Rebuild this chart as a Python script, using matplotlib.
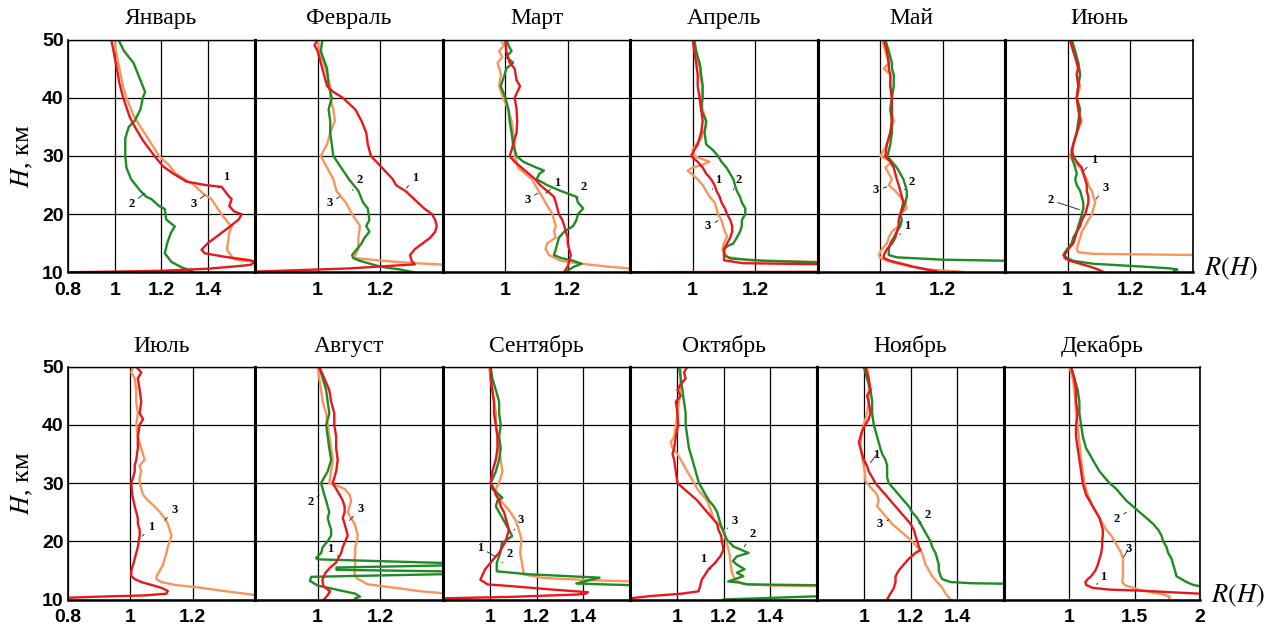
import numpy as np
import matplotlib.pyplot as plt

plt.rcParams['font.family'] = 'Liberation Sans'
plt.rcParams['mathtext.fontset'] = 'stix'

MONTHS = ["Январь", "Февраль", "Март", "Апрель", "Май", "Июнь",
          "Июль", "Август", "Сентябрь", "Октябрь", "Ноябрь", "Декабрь"]
XLIMS = [(0.8, 1.6), (0.8, 1.4), (0.8, 1.4), (0.8, 1.4), (0.8, 1.4), (0.8, 1.4),
         (0.8, 1.4), (0.8, 1.4), (0.8, 1.6), (0.8, 1.6), (0.8, 1.6), (0.5, 2.0)]
XTICKS = [[0.8, 1, 1.2, 1.4], [1, 1.2], [1, 1.2], [1, 1.2], [1, 1.2], [1, 1.2, 1.4],
          [0.8, 1, 1.2], [1, 1.2], [1, 1.2, 1.4], [1, 1.2, 1.4], [1, 1.2, 1.4], [1, 1.5, 2]]
YTICKS = [10, 20, 30, 40, 50]

# profiles as (R, H) pairs, 1 - red, 2 - green, 3 - orange
JAN_1 = [(0.985, 50), (0.995, 48), (1.007, 45.4), (1.02, 42.5), (1.036, 40), (1.064, 36.7), (1.086, 35),
         (1.12, 32.7), (1.17, 30), (1.207, 28.2), (1.25, 27), (1.307, 25.6), (1.39, 25), (1.457, 24.7),
         (1.49, 23), (1.5, 22.6), (1.49, 21.4), (1.51, 20.5), (1.543, 20), (1.53, 19.1), (1.493, 17.9),
         (1.457, 16.8), (1.4, 15.1), (1.371, 13.9), (1.385, 13.3), (1.47, 12.7), (1.58, 12.1), (1.6, 11.8),
         (1.58, 11.3), (1.5, 11.0), (1.4, 10.65), (1.2, 10.3), (1.0, 10.15), (0.8, 10.05)]
JAN_2 = [(1.015, 50), (1.04, 48), (1.08, 46), (1.09, 45), (1.11, 43), (1.13, 41), (1.12, 40), (1.11, 38),
         (1.085, 36), (1.06, 35), (1.045, 33), (1.045, 31), (1.045, 30), (1.05, 28), (1.07, 26), (1.11, 24),
         (1.135, 23), (1.157, 22.6), (1.19, 21.4), (1.214, 20.9), (1.22, 19.1), (1.257, 17.9), (1.24, 16.8),
         (1.225, 15.1), (1.214, 13.3), (1.243, 11.8), (1.286, 10.9), (1.33, 10.2)]
JAN_3 = [(1.0, 50), (1.005, 48), (1.02, 45), (1.035, 42), (1.05, 40), (1.08, 37), (1.11, 35), (1.15, 32.5),
         (1.19, 30), (1.23, 28.5), (1.26, 27), (1.3, 26), (1.34, 25), (1.38, 23.5), (1.414, 22.6), (1.44, 21),
         (1.457, 20), (1.48, 18.8), (1.5, 17.9), (1.49, 16.8), (1.486, 15.6), (1.48, 13.9), (1.507, 12.4),
         (1.53, 12.1), (1.62, 11.8)]

FEB_1 = [(1.0, 50), (0.99, 49), (1.0, 48), (1.01, 46), (1.02, 44), (1.03, 42), (1.05, 41), (1.08, 40),
         (1.12, 38), (1.14, 36), (1.155, 34), (1.16, 32), (1.17, 30), (1.205, 28), (1.24, 26), (1.25, 25),
         (1.28, 24), (1.32, 22), (1.34, 21), (1.365, 20), (1.375, 19), (1.38, 18), (1.375, 17), (1.36, 16),
         (1.335, 15), (1.31, 14), (1.295, 13), (1.3, 12), (1.31, 11.4), (1.1, 10.7), (0.8, 10.15)]
FEB_2 = [(1.015, 50), (1.01, 48), (1.03, 45), (1.035, 42), (1.045, 40), (1.035, 38), (1.04, 36), (1.04, 34),
         (1.045, 32), (1.05, 30), (1.075, 28), (1.1, 26), (1.13, 24), (1.145, 22), (1.16, 21), (1.165, 19),
         (1.155, 18), (1.165, 17), (1.15, 16), (1.14, 15), (1.125, 14), (1.11, 13), (1.113, 12.5),
         (1.135, 12), (1.2, 11), (1.265, 10.5), (1.305, 10.05)]
FEB_3 = [(1.0, 50), (1.005, 48), (1.02, 46), (1.03, 44), (1.04, 42), (1.04, 40), (1.05, 38), (1.055, 36),
         (1.04, 34), (1.03, 32), (1.01, 30), (1.03, 28), (1.05, 26), (1.06, 24), (1.09, 22), (1.11, 20),
         (1.135, 18), (1.13, 16), (1.13, 14), (1.12, 13), (1.115, 12.5), (1.21, 12), (1.31, 11.6), (1.42, 11.3)]

MAR_1 = [(1.0, 50), (1.003, 48), (1.014, 46), (1.03, 45), (1.036, 43), (1.047, 42), (1.03, 40), (1.036, 38),
         (1.038, 36), (1.036, 34), (1.025, 32), (1.02, 31), (1.014, 30), (1.03, 29), (1.052, 28), (1.074, 27),
         (1.096, 26), (1.112, 25), (1.134, 24), (1.156, 23), (1.162, 22), (1.167, 21), (1.172, 20),
         (1.183, 19), (1.189, 18), (1.194, 17), (1.2, 16), (1.2, 15), (1.205, 14), (1.21, 13), (1.205, 12),
         (1.2, 11), (1.19, 10.2)]
MAR_2 = [(1.003, 50), (1.01, 49), (1.02, 48), (1.003, 47), (1.025, 46), (1.003, 45), (0.998, 44),
         (0.985, 42), (1.0, 40), (1.01, 38), (1.014, 36), (1.02, 34), (1.025, 32), (1.036, 30), (1.058, 29),
         (1.1, 28), (1.124, 27.5), (1.11, 27), (1.1, 26), (1.118, 25.5), (1.134, 25), (1.178, 24),
         (1.228, 23), (1.233, 22), (1.25, 21), (1.233, 20), (1.228, 19), (1.218, 18), (1.189, 17),
         (1.172, 16), (1.167, 15), (1.162, 14), (1.156, 13), (1.178, 12.5), (1.218, 12), (1.245, 11.5),
         (1.22, 11), (1.205, 10.5), (1.195, 10.0)]
MAR_3 = [(0.985, 50), (0.995, 49), (0.98, 48), (0.99, 47), (0.975, 46), (0.986, 44), (0.98, 42),
         (0.993, 40), (1.009, 38), (1.02, 36), (1.025, 34), (1.03, 32), (1.03, 30), (1.041, 28),
         (1.063, 27), (1.085, 26), (1.096, 25), (1.107, 24), (1.118, 23), (1.129, 22), (1.14, 21),
         (1.151, 20), (1.156, 19), (1.162, 18), (1.156, 17), (1.162, 16), (1.134, 15), (1.129, 14),
         (1.14, 13), (1.178, 12), (1.245, 11.5), (1.33, 11), (1.42, 10.6)]

APR_1 = [(1.0, 50), (1.005, 48), (1.011, 46), (1.016, 44), (1.016, 42), (1.022, 40), (1.027, 38),
         (1.032, 36), (1.027, 34), (1.016, 32), (1.005, 31), (0.995, 30), (1.016, 29), (1.032, 28),
         (1.043, 27), (1.059, 26), (1.07, 25), (1.076, 24), (1.086, 23), (1.092, 22), (1.103, 21),
         (1.11, 20), (1.12, 19), (1.126, 18), (1.126, 17), (1.12, 16), (1.11, 15), (1.1, 14), (1.1, 13),
         (1.1, 12.1), (1.16, 11.6), (1.42, 11.4), (1.45, 10.2), (1.4, 10.12), (0.8, 10.05)]
APR_2 = [(1.005, 50), (1.011, 48), (1.022, 46), (1.027, 44), (1.032, 42), (1.032, 40), (1.027, 38),
         (1.043, 36), (1.038, 34), (1.043, 32), (1.065, 31), (1.081, 30), (1.092, 29), (1.108, 28),
         (1.119, 27), (1.13, 26), (1.135, 25), (1.141, 24), (1.151, 23), (1.157, 22), (1.168, 21),
         (1.168, 20), (1.157, 19), (1.157, 18), (1.151, 17), (1.141, 16), (1.13, 15), (1.11, 14.5),
         (1.1, 13.9), (1.1, 13.0), (1.12, 12.4), (1.23, 12.0), (1.42, 11.7)]
APR_3 = [(1.005, 50), (1.011, 48), (1.016, 46), (1.027, 45), (1.022, 44), (1.032, 42), (1.027, 40),
         (1.032, 38), (1.043, 36), (1.043, 35), (1.032, 34), (1.027, 33), (1.011, 32), (1.0, 31),
         (1.005, 30), (1.054, 29), (1.032, 28.5), (1.0, 28), (0.984, 27.5), (0.995, 27), (1.016, 26),
         (1.032, 25), (1.043, 24), (1.054, 23), (1.07, 22), (1.076, 21), (1.081, 20), (1.092, 19),
         (1.097, 18), (1.103, 17), (1.11, 16.2), (1.1, 15.1), (1.095, 13.9), (1.11, 12.7), (1.176, 12.1),
         (1.42, 11.8)]

MAY_1 = [(1.011, 50), (1.021, 48), (1.027, 46), (1.027, 45), (1.032, 44), (1.032, 42), (1.037, 40),
         (1.037, 38), (1.037, 36), (1.032, 34), (1.021, 32), (1.016, 30), (1.032, 29), (1.043, 28),
         (1.048, 27), (1.053, 26), (1.059, 25), (1.064, 24), (1.069, 23), (1.074, 22), (1.069, 21),
         (1.064, 20), (1.059, 19), (1.059, 18), (1.053, 17), (1.048, 16), (1.037, 15), (1.021, 14),
         (1.011, 13), (1.011, 12.5), (1.032, 12), (1.106, 11), (1.149, 10.5), (1.18, 10.2)]
MAY_2 = [(1.016, 50), (1.027, 48), (1.037, 46), (1.037, 45), (1.043, 44), (1.043, 42), (1.037, 40),
         (1.032, 38), (1.037, 36), (1.037, 34), (1.032, 32), (1.023, 30), (1.037, 29), (1.053, 28),
         (1.064, 27), (1.074, 26), (1.08, 25), (1.085, 24), (1.085, 23), (1.08, 22), (1.074, 21),
         (1.064, 20), (1.069, 19), (1.064, 18), (1.053, 17), (1.043, 16), (1.032, 15), (1.027, 14),
         (1.027, 13), (1.053, 12.6), (1.2, 12.2), (1.42, 12.0)]
MAY_3 = [(1.005, 50), (1.016, 48), (1.027, 46), (1.011, 45), (1.032, 44), (1.032, 42), (1.037, 40),
         (1.032, 38), (1.043, 36), (1.032, 34), (1.021, 32), (1.0, 30), (1.037, 29), (1.016, 28),
         (1.027, 27), (1.037, 26), (1.027, 25), (1.048, 24), (1.064, 23), (1.08, 22), (1.085, 21),
         (1.064, 20), (1.059, 19), (1.059, 18), (1.037, 17), (1.027, 16), (1.021, 15), (1.005, 14),
         (0.995, 13), (1.0, 12.5), (1.021, 12), (1.096, 11), (1.16, 10.5), (1.266, 10.1)]

JUN_1 = [(1.007, 50), (1.018, 48), (1.029, 46), (1.034, 45), (1.029, 44), (1.034, 42), (1.029, 40),
         (1.034, 38), (1.04, 36), (1.029, 34), (1.018, 32), (1.013, 31), (1.018, 30), (1.029, 29),
         (1.045, 28), (1.05, 27), (1.056, 26), (1.061, 25), (1.061, 24), (1.066, 23), (1.066, 22),
         (1.061, 21), (1.056, 20), (1.045, 19), (1.04, 18), (1.029, 17), (1.024, 16), (1.018, 15),
         (1.002, 14), (0.99, 13), (0.99, 12.5), (1.007, 12), (1.04, 11.5), (1.072, 11), (1.098, 10.5),
         (1.11, 10.2)]
JUN_2 = [(1.013, 50), (1.024, 48), (1.034, 46), (1.04, 44), (1.034, 42), (1.029, 40), (1.04, 38),
         (1.034, 36), (1.029, 34), (1.018, 32), (1.013, 30), (1.018, 29), (1.024, 28), (1.029, 27),
         (1.024, 26), (1.029, 25), (1.04, 24), (1.045, 23), (1.05, 22), (1.05, 21), (1.045, 20),
         (1.04, 19), (1.034, 18), (1.029, 17), (1.018, 16), (1.013, 15), (0.998, 14), (0.986, 13),
         (0.998, 12.5), (1.018, 12), (1.082, 11.5), (1.243, 11), (1.328, 10.7), (1.35, 10.5), (1.34, 10.3)]
JUN_3 = [(1.005, 50), (1.018, 48), (1.034, 46), (1.029, 44), (1.04, 42), (1.029, 40), (1.034, 38),
         (1.045, 36), (1.029, 34), (1.018, 32), (1.007, 30), (1.018, 29), (1.04, 28), (1.05, 27),
         (1.061, 26), (1.066, 25), (1.077, 24), (1.082, 23), (1.088, 22), (1.082, 21), (1.077, 20),
         (1.066, 19), (1.056, 18), (1.045, 17), (1.04, 16), (1.034, 15), (1.029, 14), (1.034, 13.5),
         (1.082, 13.2), (1.42, 13.0)]

JUL_1 = [(1.019, 50), (1.035, 49), (1.024, 48), (1.03, 46), (1.035, 44), (1.03, 42), (1.041, 41),
         (1.03, 40), (1.024, 38), (1.024, 36), (1.019, 34), (1.014, 33), (1.014, 32), (1.009, 31),
         (1.003, 30), (1.006, 28), (1.014, 26), (1.019, 25), (1.024, 24), (1.024, 23), (1.03, 22),
         (1.03, 21), (1.027, 20), (1.024, 19), (1.019, 18), (1.014, 17), (1.009, 16), (1.003, 15),
         (1.003, 14), (1.014, 13.5), (1.035, 13), (1.068, 12.5), (1.1, 12), (1.12, 11.5), (1.116, 11),
         (1.046, 10.7), (0.906, 10.5), (0.8, 10.3), (0.7, 10.2)]
JUL_3 = [(1.009, 50), (1.003, 49), (1.014, 48), (1.019, 46), (1.019, 44), (1.024, 42), (1.019, 40),
         (1.024, 38), (1.035, 36), (1.046, 34), (1.03, 33), (1.035, 32), (1.03, 31), (1.03, 30),
         (1.035, 29), (1.041, 28), (1.057, 27), (1.078, 26), (1.095, 25), (1.11, 24), (1.12, 23),
         (1.126, 22), (1.132, 21), (1.126, 20), (1.12, 19), (1.116, 18), (1.11, 17), (1.105, 16),
         (1.095, 15), (1.084, 14), (1.084, 13.5), (1.1, 13), (1.143, 12.5), (1.229, 12), (1.294, 11.5),
         (1.369, 11), (1.42, 10.6)]

AUG_1 = [(1.005, 50), (1.021, 48), (1.037, 46), (1.043, 44), (1.053, 42), (1.053, 40), (1.059, 38),
         (1.059, 36), (1.064, 34), (1.059, 32), (1.048, 30), (1.059, 29), (1.07, 28), (1.08, 27),
         (1.086, 26), (1.086, 25), (1.08, 24), (1.086, 23), (1.091, 22), (1.096, 21), (1.088, 20),
         (1.08, 19), (1.075, 18), (1.065, 17), (1.058, 16.3), (1.04, 15.5), (1.025, 14.6), (1.015, 13.4),
         (1.018, 12.3), (1.04, 11.4), (1.03, 10.6), (1.02, 10.0)]
AUG_2 = [(1.005, 50), (1.016, 48), (1.027, 46), (1.032, 44), (1.037, 42), (1.027, 40), (1.032, 38),
         (1.037, 36), (1.043, 34), (1.032, 32), (1.021, 31), (1.011, 30), (1.016, 29), (1.021, 28),
         (1.027, 27), (1.032, 26), (1.037, 25), (1.032, 24), (1.037, 23), (1.043, 22), (1.043, 21),
         (1.032, 20), (1.016, 19), (1.011, 18), (0.995, 17.1), (1.0, 16.9), (1.45, 16.2), (1.45, 15.9),
         (1.06, 15.5), (1.06, 15.1), (1.45, 14.8), (1.45, 14.4), (0.98, 13.9), (0.975, 13.2), (1.0, 12.4),
         (1.06, 11.7), (1.12, 11.0), (1.135, 10.5), (1.12, 10.2)]
AUG_3 = [(1.0, 50), (1.005, 48), (1.011, 46), (1.016, 44), (1.027, 42), (1.032, 40), (1.037, 38),
         (1.043, 36), (1.048, 34), (1.043, 32), (1.037, 30), (1.064, 29.5), (1.086, 29), (1.102, 28),
         (1.107, 27), (1.102, 26), (1.096, 25), (1.107, 24), (1.118, 23), (1.123, 22), (1.128, 21),
         (1.125, 20), (1.12, 19), (1.12, 18), (1.118, 17), (1.12, 16), (1.118, 15), (1.118, 14.3),
         (1.124, 13.7), (1.16, 12.6), (1.25, 12.0), (1.33, 11.4), (1.42, 11.0)]

SEP_1 = [(1.004, 50), (1.004, 48), (1.011, 46), (1.018, 44), (1.018, 42), (1.026, 40), (1.033, 38),
         (1.033, 36), (1.026, 34), (1.011, 32), (1.004, 30), (1.018, 29), (1.026, 28), (1.04, 27),
         (1.047, 26), (1.061, 25), (1.068, 24), (1.075, 23), (1.082, 22), (1.075, 21), (1.068, 20),
         (1.054, 19), (1.04, 18), (1.026, 17.4), (0.98, 15.2), (0.96, 13.4), (0.99, 12.6), (1.09, 12.3),
         (1.27, 11.7), (1.42, 11.25), (1.41, 11.0), (1.37, 10.85), (1.09, 10.45), (0.8, 10.2), (0.7, 10.15)]
SEP_2 = [(1.004, 50), (1.011, 48), (1.026, 46), (1.04, 44), (1.04, 42), (1.047, 40), (1.04, 38),
         (1.047, 36), (1.04, 34), (1.026, 32), (1.004, 30), (1.011, 29), (1.04, 28), (1.054, 27.5),
         (1.033, 27), (1.026, 26), (1.04, 25), (1.054, 24), (1.068, 23), (1.082, 22), (1.096, 20.9),
         (1.052, 19.7), (1.045, 18.0), (1.03, 16.3), (1.03, 14.85), (1.16, 14.35), (1.47, 13.75),
         (1.37, 12.75), (1.65, 12.4)]
SEP_3 = [(0.997, 50), (1.004, 48), (1.011, 46), (1.018, 44), (1.026, 42), (1.026, 40), (1.033, 38),
         (1.04, 36), (1.047, 34), (1.054, 32), (1.04, 30), (1.026, 29), (1.033, 28), (1.047, 27),
         (1.068, 26), (1.089, 25), (1.104, 24), (1.11, 23.7), (1.124, 22), (1.136, 20.3), (1.13, 18),
         (1.14, 15.7), (1.146, 14.3), (1.23, 13.7), (1.44, 13.3), (1.62, 13.1)]

OCT_1 = [(1.045, 50), (1.031, 49), (1.038, 48), (1.017, 47), (1.003, 46), (1.017, 45), (0.996, 44),
         (1.003, 42), (1.006, 40), (0.996, 38), (0.989, 36), (0.982, 35), (0.989, 34), (0.996, 32),
         (1.003, 30), (1.031, 29), (1.06, 28), (1.088, 27), (1.109, 26), (1.13, 25), (1.152, 24),
         (1.173, 23), (1.178, 22), (1.19, 21), (1.193, 20), (1.2, 18.6), (1.187, 17.45), (1.164, 16.3),
         (1.136, 15.2), (1.107, 13.4), (1.1, 12.3), (1.093, 11.4), (1.02, 11.0), (0.89, 10.6), (0.8, 10.2)]
OCT_2 = [(1.01, 50), (1.017, 48), (1.024, 46), (1.031, 44), (1.038, 42), (1.038, 40), (1.045, 38),
         (1.052, 36), (1.067, 34), (1.081, 32), (1.095, 30), (1.109, 29), (1.123, 28), (1.138, 27),
         (1.159, 26), (1.173, 25), (1.18, 24), (1.187, 23), (1.19, 22.6), (1.214, 20.3), (1.243, 19.1),
         (1.307, 18.0), (1.257, 17.4), (1.24, 16.6), (1.257, 16.0), (1.29, 15.2), (1.257, 14.6),
         (1.285, 14.0), (1.22, 13.1), (1.27, 12.9), (1.3, 12.6), (1.7, 12.4), (1.7, 10.6), (1.6, 10.55),
         (1.2, 10.0)]
OCT_3 = [(1.017, 50), (1.017, 48), (1.014, 46), (1.01, 44), (1.003, 42), (0.996, 40), (0.989, 38),
         (0.974, 37), (0.982, 36), (1.003, 35), (1.017, 34), (1.031, 33), (1.045, 32), (1.06, 31),
         (1.074, 30), (1.088, 29), (1.109, 28), (1.13, 27), (1.145, 25.5), (1.157, 23.8), (1.2, 22.0),
         (1.21, 20.3), (1.225, 18.0), (1.23, 16.3), (1.236, 14.6), (1.25, 13.4), (1.28, 12.7),
         (1.4, 12.4), (1.62, 12.3)]

NOV_1 = [(1.007, 50), (1.021, 48), (1.029, 46), (1.014, 45), (1.021, 44), (1.029, 42), (1.021, 41),
         (1.007, 40), (0.993, 39), (0.986, 38), (0.979, 37), (0.986, 36), (0.993, 35), (1.0, 34),
         (1.014, 33), (1.021, 32), (1.036, 31), (1.05, 30), (1.071, 29), (1.093, 28), (1.114, 27),
         (1.136, 26), (1.157, 25), (1.179, 24), (1.2, 23), (1.214, 22), (1.221, 21), (1.229, 20),
         (1.236, 19), (1.243, 18.5), (1.221, 18), (1.193, 17), (1.171, 16), (1.15, 15), (1.136, 14),
         (1.136, 13), (1.129, 12), (1.114, 11), (1.1, 10)]
NOV_2 = [(1.0, 50), (1.014, 48), (1.029, 46), (1.036, 44), (1.036, 42), (1.043, 40), (1.057, 38),
         (1.071, 36), (1.079, 35), (1.093, 34), (1.1, 33), (1.1, 32), (1.1, 31), (1.107, 30),
         (1.129, 29), (1.15, 28), (1.171, 27), (1.193, 26), (1.207, 25), (1.229, 24), (1.243, 23),
         (1.257, 22), (1.271, 21), (1.286, 20), (1.293, 19), (1.307, 18), (1.314, 17), (1.321, 16),
         (1.321, 15), (1.329, 14), (1.336, 13.5), (1.371, 13), (1.457, 12.8), (1.62, 12.7)]
NOV_3 = [(1.014, 50), (1.021, 48), (1.021, 46), (1.021, 44), (1.014, 42), (1.0, 40), (0.99, 38),
         (0.985, 36), (0.995, 34), (1.005, 32), (1.007, 30.3), (1.036, 29), (1.057, 28), (1.064, 27),
         (1.057, 26), (1.079, 25), (1.1, 24), (1.121, 23), (1.15, 22), (1.179, 21), (1.207, 20),
         (1.229, 19), (1.25, 18), (1.257, 17), (1.264, 16), (1.279, 15), (1.293, 14), (1.314, 13),
         (1.336, 12), (1.35, 11), (1.371, 10)]

DEC_1 = [(1.013, 50), (1.038, 48), (1.051, 46), (1.051, 44), (1.064, 42), (1.051, 40), (1.051, 38),
         (1.064, 36), (1.077, 34), (1.09, 32), (1.103, 30), (1.115, 29), (1.128, 28), (1.154, 27),
         (1.179, 26), (1.205, 25), (1.231, 24), (1.244, 23), (1.256, 22), (1.256, 21), (1.251, 20),
         (1.251, 19), (1.244, 18), (1.231, 17), (1.218, 16), (1.2, 15), (1.167, 14), (1.141, 13.5),
         (1.123, 13), (1.128, 12.5), (1.179, 12), (1.308, 11.7), (1.564, 11.5), (1.82, 11.2),
         (2.0, 11.0), (2.1, 10.9)]
DEC_2 = [(1.013, 50), (1.038, 48), (1.064, 46), (1.077, 44), (1.077, 42), (1.09, 40), (1.103, 38),
         (1.128, 36), (1.154, 35), (1.179, 34), (1.205, 33), (1.231, 32), (1.269, 31), (1.308, 30),
         (1.359, 29), (1.397, 28), (1.436, 27), (1.487, 26), (1.538, 25), (1.59, 24), (1.641, 23),
         (1.679, 22), (1.705, 21), (1.718, 20), (1.744, 19), (1.756, 18), (1.782, 17), (1.795, 16),
         (1.808, 15), (1.82, 14), (1.897, 13), (1.949, 12.5), (2.02, 12.2)]
DEC_3 = [(1.0, 50), (1.026, 48), (1.038, 46), (1.046, 44), (1.051, 42), (1.064, 40), (1.072, 38),
         (1.082, 36), (1.09, 34), (1.103, 32), (1.115, 30), (1.141, 28), (1.179, 26), (1.205, 25),
         (1.231, 24), (1.256, 23), (1.282, 22), (1.321, 21), (1.346, 20), (1.372, 19), (1.397, 18),
         (1.41, 17), (1.41, 16), (1.41, 15), (1.41, 14), (1.405, 13), (1.423, 12.5), (1.487, 12),
         (1.564, 11.5), (1.692, 11), (1.769, 10.5), (1.764, 10.2)]

PROFILES = [(JAN_1, JAN_2, JAN_3), (FEB_1, FEB_2, FEB_3), (MAR_1, MAR_2, MAR_3),
            (APR_1, APR_2, APR_3), (MAY_1, MAY_2, MAY_3), (JUN_1, JUN_2, JUN_3),
            (JUL_1, None, JUL_3), (AUG_1, AUG_2, AUG_3), (SEP_1, SEP_2, SEP_3),
            (OCT_1, OCT_2, OCT_3), (NOV_1, NOV_2, NOV_3), (DEC_1, DEC_2, DEC_3)]

# curve numbers: (label, point on curve, label position)
LEADERS = [
    [("1", (1.443, 24.5), (1.476, 26.4)), ("2", (1.129, 23.6), (1.071, 21.8)), ("3", (1.386, 23.3), (1.336, 21.8))],
    [("1", (1.283, 24.5), (1.312, 26.2)), ("2", (1.111, 24.1), (1.134, 25.9)), ("3", (1.07, 23.0), (1.038, 21.9))],
    [("1", (1.13, 23.6), (1.167, 25.3)), ("2", (1.23, 22.7), (1.252, 24.7)), ("3", (1.104, 23.6), (1.071, 22.5))],
    [("1", (1.063, 24.3), (1.081, 25.9)), ("2", (1.13, 24.2), (1.148, 25.9)), ("3", (1.081, 18.9), (1.049, 17.9))],
    [("2", (1.078, 24.2), (1.101, 25.6)), ("3", (1.021, 24.7), (0.986, 24.1)), ("1", (1.062, 16.5), (1.087, 17.9))],
    [("1", (1.052, 27.5), (1.084, 29.3)), ("3", (1.09, 22.6), (1.12, 24.5)), ("2", (1.037, 20.8), (0.945, 22.4))],
    [("3", (1.111, 23.6), (1.141, 25.4)), ("1", (1.039, 20.9), (1.066, 22.5))],
    [("2", (1.005, 27.9), (0.976, 26.8)), ("3", (1.102, 23.6), (1.136, 25.6)), ("1", (1.066, 17.4), (1.041, 18.6))],
    [("1", (1.023, 17.4), (0.959, 18.9)), ("2", (1.054, 16.3), (1.085, 17.8)), ("3", (1.104, 21.9), (1.132, 23.6))],
    [("3", (1.216, 22.2), (1.247, 23.5)), ("2", (1.289, 19.1), (1.325, 21.2)), ("1", (1.147, 15.2), (1.112, 16.9))],
    [("1", (1.029, 33.5), (1.054, 34.9)), ("2", (1.236, 23.0), (1.274, 24.6)), ("3", (1.107, 23.7), (1.069, 22.9))],
    [("2", (1.436, 25.0), (1.364, 23.8)), ("3", (1.415, 17.3), (1.454, 18.7)), ("1", (1.21, 12.6), (1.262, 13.9))],
]

COLORS = ['#e8171d', '#1f8b25', '#f7955c']
W, H = 1273, 631
ROWS = [([68, 255, 443, 630, 818, 1005, 1193], 39.5, 272.5),
        ([68, 255, 443, 630, 817, 1004, 1200], 366.7, 599.5)]


def main():
    fig = plt.figure(figsize=(W / 100, H / 100), dpi=100)

    for row, (edges, top, bottom) in enumerate(ROWS):
        for col in range(6):
            k = row * 6 + col
            ax = fig.add_axes([edges[col] / W, 1 - bottom / H,
                               (edges[col + 1] - edges[col]) / W, (bottom - top) / H])
            ax.set_xlim(*XLIMS[k])
            ax.set_ylim(10, 50)

            ticks = XTICKS[k]
            ax.set_xticks(ticks)
            ax.set_xticklabels([f'{t:g}' for t in ticks], fontsize=14, fontweight='bold')
            ax.set_yticks(YTICKS)
            if col == 0:
                ax.set_yticklabels([str(t) for t in YTICKS], fontsize=14, fontweight='bold')
            else:
                ax.set_yticklabels([])
            ax.tick_params(length=0)
            ax.tick_params(axis='x', pad=7)
            ax.tick_params(axis='y', pad=3)
            ax.grid(True, color='black', lw=0.9)
            ax.set_axisbelow(True)

            ax.spines['top'].set_linewidth(1.0)
            ax.spines['bottom'].set_linewidth(1.8)
            ax.spines['left'].set_linewidth(1.2 if col == 0 else 2.2)
            ax.spines['right'].set_linewidth(1.2 if col == 5 else 2.2)

            # orange first, red on top
            for idx in (2, 1, 0):
                prof = PROFILES[k][idx]
                if prof is None:
                    continue
                r, h = np.array(prof).T
                ax.plot(r, h, color=COLORS[idx], lw=1.7, solid_joinstyle='round')

            for num, tip, pos in LEADERS[k]:
                ax.annotate(num, xy=tip, xytext=pos, ha='center', va='center',
                            fontsize=9, fontweight='bold', family='Liberation Serif',
                            arrowprops=dict(arrowstyle='-', lw=0.7, color='#333333',
                                            shrinkA=1, shrinkB=0))

            ax.text(0.5, 1.088, MONTHS[k], transform=ax.transAxes, ha='center', va='center',
                    fontsize=17, family='Liberation Serif')

        fig.text(22 / W, 1 - (top + bottom) / 2 / H, r'$H$, км', rotation=90,
                 ha='center', va='center', fontsize=19, family='Liberation Serif')
        fig.text((edges[-1] + 38) / W, 1 - (bottom - 4) / H, r'$R(H)$',
                 ha='center', va='center', fontsize=19)

    fig.savefig('out.png', dpi=100)


if __name__ == '__main__':
    main()
